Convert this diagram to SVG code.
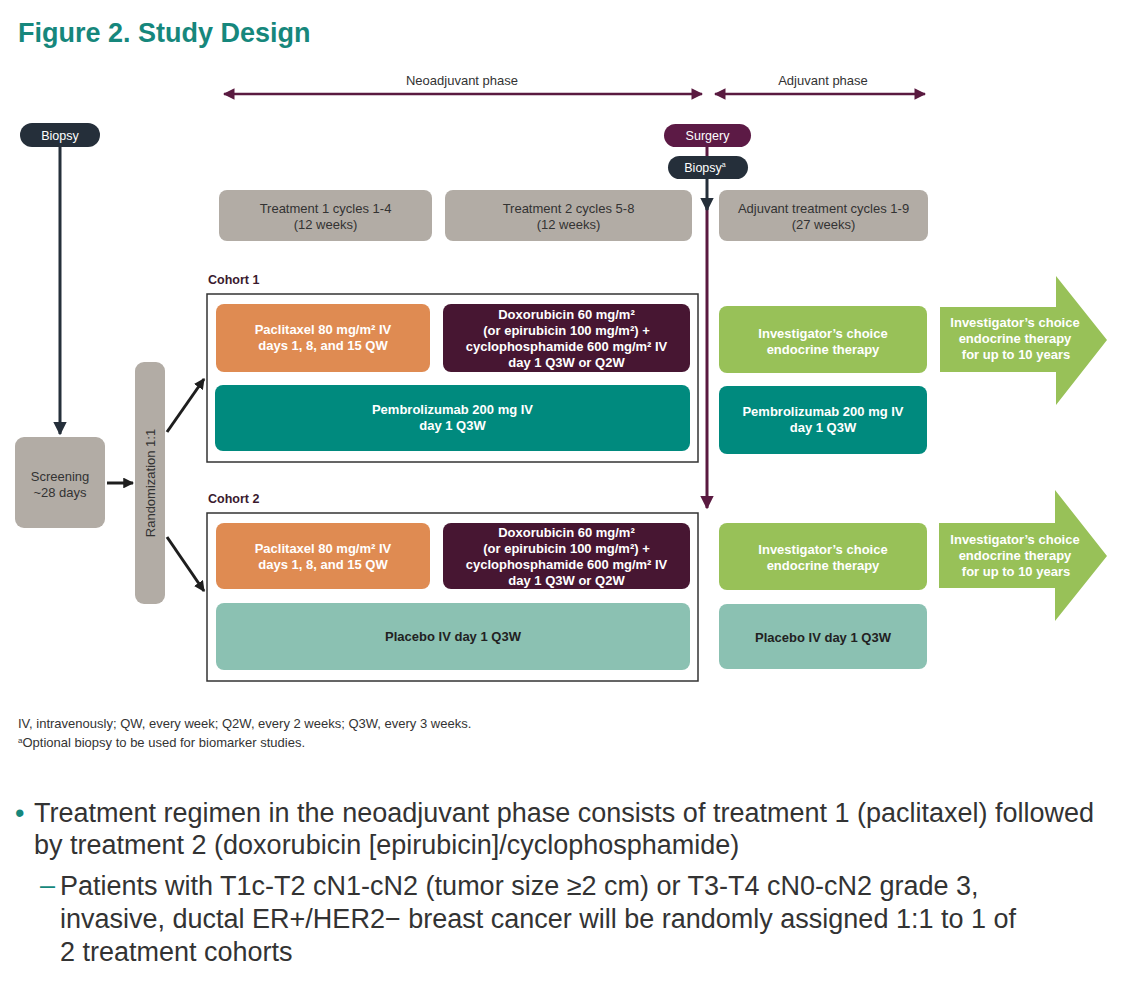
<svg xmlns="http://www.w3.org/2000/svg" width="1124" height="1008" viewBox="0 0 1124 1008">
<defs>
<style>
text{font-family:"Liberation Sans",Arial,sans-serif}
.title{font-size:27px;font-weight:bold;fill:#16877c}
.ph{font-size:13px;fill:#333;text-anchor:middle}
.pill{font-size:12.5px;fill:#fff;text-anchor:middle}
.gt{font-size:13px;fill:#333;text-anchor:middle}
.bw{font-size:13px;font-weight:bold;fill:#fff;text-anchor:middle}
.bd{font-size:13px;font-weight:bold;fill:#222;text-anchor:middle}
.coh{font-size:12.5px;font-weight:bold;fill:#3a1a2e}
.fn{font-size:13px;fill:#333}
.bul{font-size:27px;fill:#333}
.gray{fill:#b2aca5}
.orange{fill:#df8b52}
.plum{fill:#471632}
.teal{fill:#008a7e}
.lteal{fill:#8bc1b2}
.green{fill:#98c158}
</style>
<marker id="am" viewBox="0 0 10 10" refX="9" refY="5" markerWidth="4.5" markerHeight="4.5" orient="auto-start-reverse"><path d="M0,0 L10,5 L0,10 z" fill="#5a1a40"/></marker>
<marker id="ad" viewBox="0 0 10 10" refX="9" refY="5" markerWidth="4.5" markerHeight="4.5" orient="auto-start-reverse"><path d="M0,0 L10,5 L0,10 z" fill="#252f3a"/></marker>
<marker id="ak" viewBox="0 0 10 10" refX="9" refY="5" markerWidth="3.6" markerHeight="3.6" orient="auto"><path d="M0,0 L10,5 L0,10 z" fill="#1e1e1e"/></marker>
</defs>
<rect width="1124" height="1008" fill="#fff"/>
<text class="title" x="18" y="42">Figure 2. Study Design</text>

<g id="connectors">
<line x1="224" y1="94" x2="702" y2="94" stroke="#5a1a40" stroke-width="2.6" marker-start="url(#am)" marker-end="url(#am)"/>
<line x1="715" y1="94" x2="925" y2="94" stroke="#5a1a40" stroke-width="2.6" marker-start="url(#am)" marker-end="url(#am)"/>
<line x1="60" y1="147" x2="60" y2="434" stroke="#252f3a" stroke-width="3" marker-end="url(#ad)"/>
<line x1="707" y1="147" x2="707" y2="156" stroke="#5a1a40" stroke-width="3"/>
<line x1="707" y1="200" x2="707" y2="508" stroke="#5a1a40" stroke-width="3" marker-end="url(#am)"/>
<line x1="707" y1="179" x2="707" y2="210" stroke="#252f3a" stroke-width="3" marker-end="url(#ad)"/>
<line x1="107" y1="483" x2="133" y2="483" stroke="#1e1e1e" stroke-width="3" marker-end="url(#ak)"/>
<line x1="167" y1="432" x2="204" y2="379" stroke="#1e1e1e" stroke-width="3" marker-end="url(#ak)"/>
<line x1="167" y1="537" x2="204" y2="591" stroke="#1e1e1e" stroke-width="3" marker-end="url(#ak)"/>
</g>

<text class="ph" x="462" y="85">Neoadjuvant phase</text>
<text class="ph" x="823" y="85">Adjuvant phase</text>

<g id="biopsy1"><rect x="20" y="123" width="80" height="24" rx="12" fill="#252f3a"/><text class="pill" x="60" y="140">Biopsy</text></g>
<g id="surgery"><rect x="664" y="124" width="87" height="23" rx="11.5" fill="#5c1a45"/><text class="pill" x="707.5" y="140">Surgery</text></g>
<g id="biopsy2"><rect x="668" y="156" width="80" height="23" rx="11.5" fill="#252f3a"/><text class="pill" x="705" y="172">Biopsy<tspan font-size="7" dy="-5">a</tspan></text></g>

<g id="t1"><rect class="gray" x="219" y="190" width="213" height="51" rx="8"/><text class="gt" x="325.5" y="213">Treatment 1 cycles 1-4</text><text class="gt" x="325.5" y="229">(12 weeks)</text></g>
<g id="t2"><rect class="gray" x="445" y="190" width="247" height="51" rx="8"/><text class="gt" x="568.5" y="213">Treatment 2 cycles 5-8</text><text class="gt" x="568.5" y="229">(12 weeks)</text></g>
<g id="t3"><rect class="gray" x="719" y="190" width="209" height="51" rx="8"/><text class="gt" x="823.5" y="213">Adjuvant treatment cycles 1-9</text><text class="gt" x="823.5" y="229">(27 weeks)</text></g>

<g id="screening"><rect class="gray" x="15" y="437" width="90" height="91" rx="9"/><text class="gt" x="60" y="481">Screening</text><text class="gt" x="60" y="497">~28 days</text></g>
<g id="random"><rect class="gray" x="135" y="362" width="30" height="242" rx="9"/><text class="gt" transform="translate(155,483) rotate(-90)" x="0" y="0">Randomization 1:1</text></g>

<g id="cohort1">
<text class="coh" x="208" y="284">Cohort 1</text>
<rect x="207" y="294" width="491" height="168" fill="none" stroke="#333" stroke-width="1.5"/>
<rect class="orange" x="216" y="304" width="214" height="68" rx="8"/>
<text class="bw" x="323" y="334">Paclitaxel 80 mg/m² IV</text><text class="bw" x="323" y="350">days 1, 8, and 15 QW</text>
<rect class="plum" x="443" y="304" width="247" height="68" rx="8"/>
<text class="bw" x="566.5" y="319">Doxorubicin 60 mg/m²</text><text class="bw" x="566.5" y="335">(or epirubicin 100 mg/m²) +</text><text class="bw" x="566.5" y="351">cyclophosphamide 600 mg/m² IV</text><text class="bw" x="566.5" y="367">day 1 Q3W or Q2W</text>
<rect class="teal" x="215" y="385" width="475" height="66" rx="8"/>
<text class="bw" x="452.5" y="414">Pembrolizumab 200 mg IV</text><text class="bw" x="452.5" y="430">day 1 Q3W</text>
</g>
<g id="adj1">
<rect class="green" x="719" y="306" width="208" height="67" rx="8"/>
<text class="bw" x="823" y="338">Investigator’s choice</text><text class="bw" x="823" y="354">endocrine therapy</text>
<rect class="teal" x="719" y="386" width="208" height="68" rx="8"/>
<text class="bw" x="823" y="416">Pembrolizumab 200 mg IV</text><text class="bw" x="823" y="432">day 1 Q3W</text>
<path class="green" d="M940,307 H1056 V276 L1107,340 L1056,405 V372 H940 Z"/>
<text class="bw" x="1015" y="327">Investigator’s choice</text><text class="bw" x="1015" y="343">endocrine therapy</text><text class="bw" x="1016" y="359">for up to 10 years</text>
</g>

<g id="cohort2">
<text class="coh" x="208" y="503">Cohort 2</text>
<rect x="207" y="513" width="491" height="168" fill="none" stroke="#333" stroke-width="1.5"/>
<rect class="orange" x="216" y="523" width="214" height="66" rx="8"/>
<text class="bw" x="323" y="553">Paclitaxel 80 mg/m² IV</text><text class="bw" x="323" y="569">days 1, 8, and 15 QW</text>
<rect class="plum" x="443" y="523" width="247" height="66" rx="8"/>
<text class="bw" x="566.5" y="537">Doxorubicin 60 mg/m²</text><text class="bw" x="566.5" y="553">(or epirubicin 100 mg/m²) +</text><text class="bw" x="566.5" y="569">cyclophosphamide 600 mg/m² IV</text><text class="bw" x="566.5" y="585">day 1 Q3W or Q2W</text>
<rect class="lteal" x="216" y="603" width="474" height="67" rx="8"/>
<text class="bd" x="453" y="641">Placebo IV day 1 Q3W</text>
</g>
<g id="adj2">
<rect class="green" x="719" y="523" width="208" height="67" rx="8"/>
<text class="bw" x="823" y="554">Investigator’s choice</text><text class="bw" x="823" y="570">endocrine therapy</text>
<rect class="lteal" x="719" y="604" width="208" height="65" rx="8"/>
<text class="bd" x="823" y="642">Placebo IV day 1 Q3W</text>
<path class="green" d="M939,523 H1055 V490 L1107,556 L1055,621 V588 H939 Z"/>
<text class="bw" x="1015" y="544">Investigator’s choice</text><text class="bw" x="1015" y="560">endocrine therapy</text><text class="bw" x="1016" y="576">for up to 10 years</text>
</g>

<text class="fn" x="18" y="728">IV, intravenously; QW, every week; Q2W, every 2 weeks; Q3W, every 3 weeks.</text>
<text class="fn" x="18" y="747"><tspan font-size="8" dy="-4">a</tspan><tspan dy="4">Optional biopsy to be used for biomarker studies.</tspan></text>

<text class="bul" x="15" y="822" style="fill:#16877c">•</text>
<text class="bul" x="34" y="822">Treatment regimen in the neoadjuvant phase consists of treatment 1 (paclitaxel) followed</text>
<text class="bul" x="34" y="854">by treatment 2 (doxorubicin [epirubicin]/cyclophosphamide)</text>
<text class="bul" x="40" y="894" style="fill:#16877c">–</text>
<text class="bul" x="60" y="895">Patients with T1c-T2 cN1-cN2 (tumor size ≥2 cm) or T3-T4 cN0-cN2 grade 3,</text>
<text class="bul" x="60" y="928">invasive, ductal ER+/HER2− breast cancer will be randomly assigned 1:1 to 1 of</text>
<text class="bul" x="60" y="961">2 treatment cohorts</text>
</svg>
